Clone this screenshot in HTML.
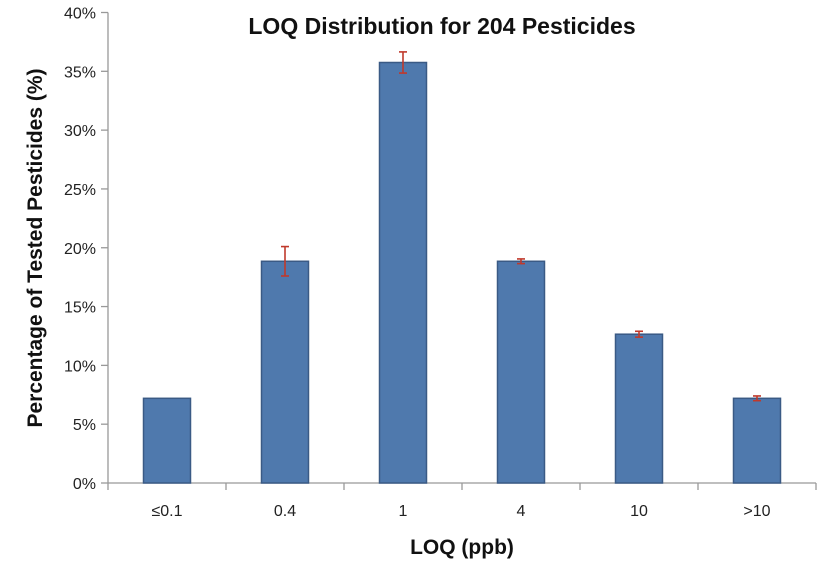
<!DOCTYPE html>
<html><head><meta charset="utf-8"><style>
body{margin:0;background:#fff;}
svg text{font-family:"Liberation Sans",sans-serif;}
</style></head><body>
<svg id="chart" width="821" height="564" viewBox="0 0 821 564" xmlns="http://www.w3.org/2000/svg">
<text x="442" y="34" text-anchor="middle" font-size="23" font-weight="bold" fill="#111">LOQ Distribution for 204 Pesticides</text>
<text transform="translate(42,248) rotate(-90)" text-anchor="middle" font-size="21" font-weight="bold" fill="#111">Percentage of Tested Pesticides (%)</text>
<text x="462" y="554" text-anchor="middle" font-size="21" font-weight="bold" fill="#111">LOQ (ppb)</text>
<g id="axes"></g>
<g id="bars"></g>
</svg>
<script>
const categories = ["≤0.1","0.4","1","4","10",">10"];
const values = [7.2, 18.85, 35.75, 18.85, 12.65, 7.2];
const errors = [0, 1.25, 0.9, 0.2, 0.25, 0.2];
const yTicks = [0,5,10,15,20,25,30,35,40];
const NS="http://www.w3.org/2000/svg";
const x0=108, catW=118, y0=483, yTop=12.5, yMax=40;
function y(v){return y0-(v/yMax)*(y0-yTop);}
function xc(i){return x0+catW*(i+0.5);}
function mk(tag,attrs,parent){const e=document.createElementNS(NS,tag);for(const k in attrs)e.setAttribute(k,attrs[k]);parent.appendChild(e);return e;}
const axes=document.getElementById('axes'), bars=document.getElementById('bars');
let yAxis=mk('line',{x1:x0,y1:yTop,x2:x0,y2:y0,stroke:'#999','stroke-width':1.3},axes);


let xAxis=mk('line',{x1:x0,y1:y0,x2:x0+catW*categories.length,y2:y0,stroke:'#999','stroke-width':1.3},axes);


yTicks.forEach(t=>{
  let l=mk('line',{x1:x0-7,y1:y(t),x2:x0,y2:y(t),stroke:'#999','stroke-width':1.3},axes);
  
  
  let tx=mk('text',{x:x0-12,y:y(t)+6,'text-anchor':'end','font-size':16,fill:'#222'},axes);
  tx.textContent=t+'%';
  
  
});
for(let i=0;i<=categories.length;i++){
  let l=mk('line',{x1:x0+catW*i,y1:y0,x2:x0+catW*i,y2:y0+7,stroke:'#999','stroke-width':1.3},axes);
  
  
}
categories.forEach((c,i)=>{
  const bw=47;
  let r=mk('rect',{x:xc(i)-bw/2,y:y(values[i]),width:bw,height:y0-y(values[i]),fill:'#4f79ad',stroke:'#3a5a85','stroke-width':1.5},bars);
  
  
  if(errors[i]>0){
    const hi=y(values[i]+errors[i]), lo=y(values[i]-errors[i]), cx=xc(i);
    let g=mk('g',{stroke:'#c0392b','stroke-width':1.6},bars);
    
    
    mk('line',{x1:cx,y1:hi,x2:cx,y2:lo},g);
    mk('line',{x1:cx-4,y1:hi,x2:cx+4,y2:hi},g);
    mk('line',{x1:cx-4,y1:lo,x2:cx+4,y2:lo},g);
  }
  let t=mk('text',{x:xc(i),y:y0+33,'text-anchor':'middle','font-size':16,fill:'#222'},axes);
  t.textContent=c;
  
  
});
</script>
</body></html>
